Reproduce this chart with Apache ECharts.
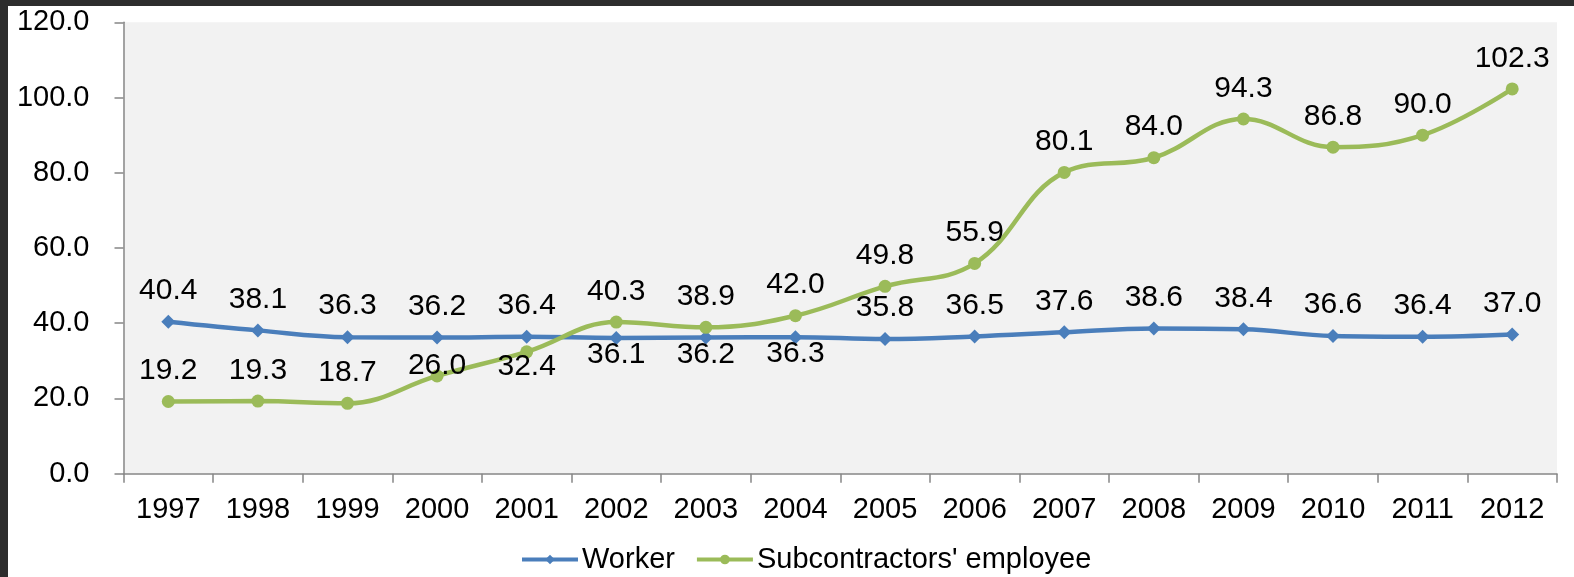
<!DOCTYPE html>
<html>
<head>
<meta charset="utf-8">
<title>Worker vs Subcontractors' employee</title>
<script src="https://cdn.jsdelivr.net/npm/echarts@6/dist/echarts.min.js"></script>
<style>
  html, body { margin: 0; padding: 0; background: #fff; }
  #chart { width: 1574px; height: 577px; }
</style>
</head>
<body>
<div id="chart"></div>
<script>
const years = ['1997', '1998', '1999', '2000', '2001', '2002', '2003', '2004',
  '2005', '2006', '2007', '2008', '2009', '2010', '2011', '2012'];
const worker = [40.4, 38.1, 36.3, 36.2, 36.4, 36.1, 36.2, 36.3,
  35.8, 36.5, 37.6, 38.6, 38.4, 36.6, 36.4, 37.0];
const subcontractors = [19.2, 19.3, 18.7, 26.0, 32.4, 40.3, 38.9, 42.0,
  49.8, 55.9, 80.1, 84.0, 94.3, 86.8, 90.0, 102.3];

// label nudges (px down from the normal "above" spot), as placed by hand in the original
const workerLabelShift = [0, 0, 0, 0, 0, 48, 48, 48, 0, 0, 0, 0, 0, 0, 0, 0];
const subLabelShift = [0, 0, 0, 20, 45, 0, 0, 0, 0, 0, 0, 0, 0, 0, 0, 0];

const FONT = '"Liberation Sans", Arial, sans-serif';
const FS = 29;
const LABEL_FS = 30;

function withLabels(values, shifts) {
  return values.map((v, i) => ({
    value: v,
    label: shifts[i] ? { offset: [0, shifts[i]] } : undefined
  }));
}

const chart = echarts.init(document.getElementById('chart'));
const option = {
  animation: false,
  textStyle: { fontFamily: FONT, color: '#000' },
  graphic: [
    { type: 'rect', shape: { x: 0, y: 0, width: 1574, height: 6 }, style: { fill: '#2d2d2d' }, z: 100 },
    { type: 'rect', shape: { x: 0, y: 0, width: 8, height: 577 }, style: { fill: '#2d2d2d' }, z: 100 }
  ],
  grid: {
    left: 123.5,
    top: 22.3,
    right: 17,
    bottom: 103.3,
    show: true,
    backgroundColor: '#f2f2f2',
    borderWidth: 0
  },
  legend: {
    left: 515,
    top: 540,
    itemWidth: 56,
    itemHeight: 12,
    itemGap: 20,
    lineStyle: { width: 4 },
    textStyle: { fontFamily: FONT, fontSize: FS, color: '#000', padding: [0, 0, 0, -1] },
    data: ['Worker', "Subcontractors' employee"]
  },
  xAxis: {
    type: 'category',
    data: years,
    boundaryGap: true,
    axisLine: { lineStyle: { color: '#878787', width: 1.5 } },
    axisTick: { show: true, length: 9, lineStyle: { color: '#878787', width: 1.5 } },
    axisLabel: { fontFamily: FONT, fontSize: FS, color: '#000', margin: 22 }
  },
  yAxis: {
    type: 'value',
    min: 0,
    max: 120,
    interval: 20,
    axisLine: { show: true, lineStyle: { color: '#878787', width: 1.5 } },
    axisTick: { show: true, length: 9, lineStyle: { color: '#878787', width: 1.5 } },
    splitLine: { show: false },
    axisLabel: {
      fontFamily: FONT, fontSize: FS, color: '#000', margin: 34,
      formatter: v => v.toFixed(1)
    }
  },
  series: [
    {
      name: 'Worker',
      type: 'line',
      smooth: 0.4,
      symbol: 'diamond',
      symbolSize: 14,
      color: '#4a7ebb',
      lineStyle: { width: 4.5, color: '#4a7ebb' },
      label: {
        show: true, position: 'top', distance: 9,
        fontFamily: FONT, fontSize: LABEL_FS, color: '#000',
        formatter: p => p.value.toFixed(1)
      },
      data: withLabels(worker, workerLabelShift)
    },
    {
      name: "Subcontractors' employee",
      type: 'line',
      smooth: 0.4,
      symbol: 'circle',
      symbolSize: 13,
      color: '#9bbb59',
      lineStyle: { width: 4.5, color: '#9bbb59' },
      label: {
        show: true, position: 'top', distance: 9,
        fontFamily: FONT, fontSize: LABEL_FS, color: '#000',
        formatter: p => p.value.toFixed(1)
      },
      data: withLabels(subcontractors, subLabelShift)
    }
  ]
};
chart.setOption(option);
window.addEventListener('resize', () => chart.resize());
</script>
</body>
</html>
